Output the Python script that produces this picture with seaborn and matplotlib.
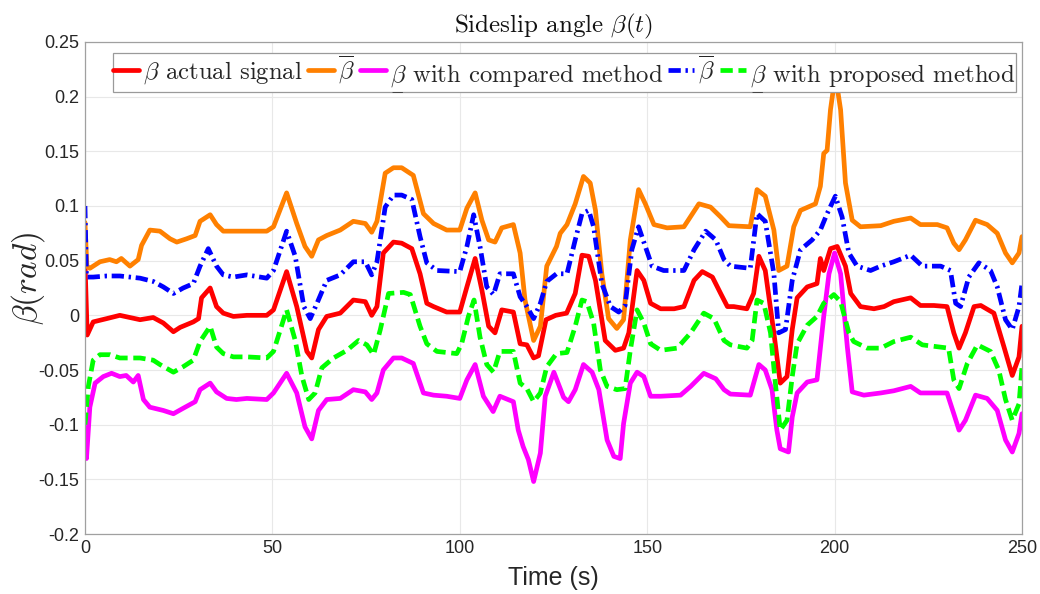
import matplotlib
matplotlib.use("Agg")
import matplotlib.pyplot as plt
from matplotlib.mathtext import MathTextParser
import seaborn as sns
import pandas as pd

# ---- sideslip angle traces (time in s, beta in rad) ----
t_actual = [0, 0.6, 2.2, 5.8, 9.3, 12, 14.7, 18.2, 20.9, 23.6, 25.4, 28.9, 30.3, 31.1, 33.4, 35.1,
            36.9, 39.6, 43.2, 48.5, 50.3, 53.8, 56.5, 59.2, 60.5, 62.3, 64.5, 68.1, 71.6, 74.8, 76.5,
            77.9, 79.6, 82.3, 84.5, 87.2, 89.4, 91.2, 93, 96.5, 100, 101.9, 104.1, 105.9, 107.7,
            109.4, 111.2, 114.3, 116.1, 117.9, 119.7, 121.0, 123.0, 125.6, 128.5, 130.8, 132.6,
            134.4, 136.2, 138.8, 141.5, 143.7, 145.1, 147.3, 149.1, 150.9, 153.6, 157.2, 159.8,
            162.5, 164.7, 167.4, 169.6, 171.4, 173.1, 176.6, 178.4, 179.8, 181.5, 183.8, 185.5,
            187.3, 188.7, 190.0, 192.7, 195.3, 196.2, 197.1, 198.9, 200.7, 202.9, 204.3, 206.9,
            210.5, 213.2, 215.8, 220.3, 222.9, 226.5, 230.0, 231.8, 233.2, 234.9, 237.2, 239.0,
            242.5, 245.2, 247.4, 249.2, 250.0]
beta_actual = [0.049, -0.018, -0.006, -0.003, 0.0, -0.002, -0.004, -0.002, -0.007, -0.015, -0.011,
               -0.006, -0.003, 0.016, 0.025, 0.008, 0.002, -0.001, 0.0, 0.0, 0.005, 0.04, 0.008,
               -0.033, -0.039, -0.013, -0.001, 0.002, 0.014, 0.0125, 0.0, 0.008, 0.057, 0.067,
               0.066, 0.061, 0.038, 0.011, 0.008, 0.003, 0.003, 0.026, 0.052, 0.023, -0.010,
               -0.016, 0.005, 0.003, -0.026, -0.027, -0.039, -0.037, -0.004, 0.0, 0.002, 0.02,
               0.055, 0.054, 0.032, -0.023, -0.032, -0.030, -0.016, 0.041, 0.032, 0.011, 0.006,
               0.006, 0.008, 0.032, 0.040, 0.035, 0.020, 0.008, 0.008, 0.006, 0.020, 0.054, 0.041,
               -0.016, -0.062, -0.056, -0.013, 0.016, 0.026, 0.029, 0.052, 0.041, 0.061, 0.063,
               0.045, 0.020, 0.008, 0.006, 0.008, 0.0125, 0.016, 0.009, 0.009, 0.008, -0.016,
               -0.030, -0.016, 0.008, 0.009, 0.002, -0.029, -0.055, -0.038, -0.010]

t_upper_cmp = [0, 0.5, 1.3, 4.0, 6.6, 8.4, 9.7, 12.0, 14.2, 15.1, 17.3, 20.0, 22.7, 24.5, 27.1,
               29.4, 30.7, 33.4, 35.1, 36.9, 43.2, 48.5, 50.3, 53.8, 56.5, 58.7, 60.5, 62.3, 64.5,
               68.1, 71.6, 74.8, 76.5, 77.9, 80.1, 82.3, 84.5, 87.6, 90.3, 93.0, 96.5, 100.0,
               101.9, 104.1, 105.9, 107.7, 109.4, 111.2, 114.3, 116.1, 117.4, 119.7, 121.5, 123.2,
               125.8, 126.8, 128.6, 130.8, 133.0, 134.8, 136.2, 137.9, 139.7, 141.9, 143.7, 145.5,
               147.7, 149.5, 151.8, 155.3, 159.8, 163.8, 166.9, 169.6, 171.8, 177.5, 179.3, 181.5,
               183.8, 185.1, 187.3, 189.1, 190.9, 194.9, 196.2, 197.1, 198.0, 198.9, 200.2, 201.6,
               202.9, 204.7, 206.9, 212.3, 215.8, 220.3, 222.9, 227.4, 230.0, 231.8, 233.2, 234.9,
               237.6, 240.7, 243.4, 245.6, 247.4, 249.2, 250.0]
beta_upper_cmp = [0.085, 0.045, 0.043, 0.049, 0.051, 0.049, 0.052, 0.045, 0.051, 0.064, 0.078,
                  0.077, 0.070, 0.067, 0.070, 0.073, 0.086, 0.092, 0.083, 0.077, 0.077, 0.077,
                  0.081, 0.112, 0.084, 0.063, 0.054, 0.069, 0.073, 0.078, 0.086, 0.084, 0.076,
                  0.086, 0.130, 0.135, 0.135, 0.128, 0.093, 0.084, 0.078, 0.078, 0.098, 0.112,
                  0.087, 0.069, 0.067, 0.080, 0.083, 0.057, 0.014, -0.023, -0.010, 0.045, 0.063,
                  0.075, 0.083, 0.102, 0.127, 0.121, 0.096, 0.038, -0.003, -0.012, -0.004, 0.069,
                  0.115, 0.102, 0.083, 0.080, 0.081, 0.102, 0.099, 0.090, 0.082, 0.081, 0.115,
                  0.109, 0.078, 0.041, 0.045, 0.081, 0.096, 0.102, 0.118, 0.148, 0.151, 0.188,
                  0.220, 0.188, 0.121, 0.087, 0.081, 0.082, 0.086, 0.089, 0.083, 0.083, 0.080,
                  0.066, 0.060, 0.069, 0.087, 0.083, 0.075, 0.057, 0.048, 0.057, 0.072]

t_lower_cmp = [0, 0.4, 1.3, 2.7, 4.9, 7.1, 9.3, 11.0, 12.9, 14.2, 15.6, 17.3, 20.9, 23.6, 26.2,
               29.4, 30.7, 33.4, 35.1, 37.8, 40.4, 43.2, 48.5, 50.3, 53.8, 56.5, 58.7, 60.5, 62.3,
               64.5, 68.1, 71.6, 74.8, 76.5, 77.9, 79.6, 82.3, 84.5, 87.6, 90.3, 93.0, 96.5, 100.0,
               101.9, 104.1, 106.3, 108.9, 110.7, 114.3, 115.6, 116.9, 118.3, 119.7, 121.5, 122.8,
               125.1, 127.7, 129.0, 130.8, 133.0, 135.3, 137.1, 139.3, 141.1, 142.8, 143.7, 145.5,
               147.3, 149.1, 150.9, 153.6, 158.9, 161.6, 165.1, 168.3, 170.5, 172.2, 177.5, 179.8,
               181.5, 183.3, 184.6, 185.5, 187.7, 188.7, 190.0, 192.7, 195.3, 197.1, 198.5, 200.0,
               201.6, 203.4, 204.7, 207.8, 212.3, 215.8, 220.3, 222.9, 230.0, 231.8, 233.2, 234.9,
               237.6, 240.7, 243.4, 245.6, 247.4, 249.2, 250.0]
beta_lower_cmp = [-0.102, -0.131, -0.084, -0.062, -0.056, -0.053, -0.056, -0.055, -0.061, -0.055,
                  -0.077, -0.084, -0.087, -0.090, -0.085, -0.079, -0.068, -0.062, -0.070, -0.076,
                  -0.077, -0.076, -0.077, -0.071, -0.053, -0.071, -0.102, -0.113, -0.087, -0.077,
                  -0.076, -0.068, -0.070, -0.077, -0.071, -0.050, -0.039, -0.039, -0.044, -0.071,
                  -0.073, -0.074, -0.076, -0.059, -0.045, -0.074, -0.088, -0.074, -0.079, -0.105,
                  -0.120, -0.132, -0.152, -0.126, -0.074, -0.052, -0.075, -0.079, -0.068, -0.045,
                  -0.052, -0.068, -0.114, -0.129, -0.131, -0.099, -0.062, -0.052, -0.056, -0.074,
                  -0.074, -0.073, -0.065, -0.053, -0.058, -0.068, -0.072, -0.073, -0.045, -0.050,
                  -0.068, -0.105, -0.122, -0.125, -0.093, -0.071, -0.061, -0.059, -0.001, 0.038,
                  0.057, 0.038, -0.029, -0.070, -0.073, -0.071, -0.069, -0.065, -0.071, -0.071,
                  -0.090, -0.105, -0.096, -0.073, -0.076, -0.087, -0.114, -0.125, -0.108, -0.090]

t_upper_prop = [0, 0.4, 2.2, 5.8, 9.3, 12.0, 14.7, 18.2, 20.9, 23.6, 26.2, 28.9, 30.7, 32.9, 35.1,
                36.9, 39.6, 43.2, 48.5, 50.3, 53.8, 56.1, 58.4, 60.1, 61.9, 64.5, 68.1, 71.6, 74.8,
                76.5, 77.9, 80.1, 82.3, 84.5, 87.2, 89.4, 91.2, 93.9, 100.0, 101.9, 103.7, 105.4,
                107.2, 109.0, 110.7, 114.3, 116.1, 117.9, 119.7, 121.5, 123.2, 125.8, 128.6, 130.8,
                132.6, 134.4, 135.7, 137.9, 140.2, 142.4, 144.1, 145.9, 147.7, 149.5, 151.3, 154.4,
                159.8, 162.5, 165.6, 168.3, 170.5, 172.2, 177.5, 179.3, 181.5, 183.8, 185.1, 186.9,
                188.7, 190.9, 194.0, 196.2, 198.0, 200.2, 202.0, 203.8, 206.0, 209.6, 212.3, 215.8,
                220.3, 223.4, 228.3, 230.9, 232.3, 233.6, 235.8, 238.5, 241.6, 243.4, 245.6, 247.4,
                249.2, 250.0]
beta_upper_prop = [0.100, 0.035, 0.035, 0.036, 0.036, 0.035, 0.034, 0.031, 0.026, 0.020, 0.025,
                   0.029, 0.045, 0.061, 0.045, 0.037, 0.035, 0.037, 0.034, 0.041, 0.077, 0.054,
                   0.008, -0.003, 0.011, 0.032, 0.037, 0.049, 0.049, 0.037, 0.049, 0.099, 0.110,
                   0.110, 0.106, 0.072, 0.048, 0.041, 0.040, 0.063, 0.092, 0.063, 0.026, 0.019,
                   0.038, 0.038, 0.017, 0.008, -0.003, 0.011, 0.031, 0.038, 0.038, 0.069, 0.093,
                   0.096, 0.081, 0.029, 0.008, 0.003, 0.009, 0.060, 0.081, 0.063, 0.045, 0.041,
                   0.041, 0.060, 0.077, 0.069, 0.051, 0.045, 0.043, 0.093, 0.086, 0.038, -0.016,
                   -0.013, 0.032, 0.060, 0.069, 0.078, 0.093, 0.109, 0.090, 0.057, 0.045, 0.041,
                   0.045, 0.049, 0.055, 0.045, 0.045, 0.041, 0.011, 0.008, 0.035, 0.048, 0.041,
                   0.026, -0.004, -0.013, 0.008, 0.029]

t_lower_prop = [0, 0.9, 2.2, 4.0, 6.7, 9.3, 14.7, 18.2, 20.0, 23.6, 26.2, 28.9, 30.7, 33.4, 35.1,
                36.9, 39.6, 43.2, 48.5, 50.3, 53.8, 56.1, 57.9, 59.7, 61.4, 63.2, 66.3, 69.9, 73.0,
                75.2, 77.0, 78.8, 81.0, 85.0, 86.8, 89.4, 91.2, 93.9, 99.2, 100.5, 102.3, 103.8,
                105.4, 107.2, 109.0, 110.7, 114.3, 116.1, 117.9, 119.7, 121.5, 123.2, 125.8, 128.6,
                130.8, 132.6, 133.9, 135.7, 137.5, 139.3, 141.9, 144.1, 145.5, 147.3, 149.1, 150.9,
                153.6, 158.0, 161.6, 165.1, 167.8, 170.5, 172.2, 176.6, 178.0, 179.3, 181.1, 182.9,
                184.2, 185.5, 187.3, 188.7, 190.0, 192.7, 195.3, 197.1, 199.8, 201.6, 203.8, 205.1,
                208.7, 212.3, 215.8, 220.3, 223.4, 230.4, 231.8, 233.2, 235.4, 238.1, 241.6, 243.8,
                245.6, 247.4, 249.2, 250.0]
beta_lower_prop = [-0.100, -0.065, -0.041, -0.036, -0.036, -0.039, -0.039, -0.041, -0.045,
                   -0.052, -0.047, -0.041, -0.024, -0.010, -0.029, -0.035, -0.038, -0.038, -0.039,
                   -0.033, 0.005, -0.023, -0.056, -0.077, -0.071, -0.048, -0.039, -0.032, -0.023,
                   -0.027, -0.036, -0.013, 0.020, 0.021, 0.019, -0.010, -0.026, -0.033, -0.035,
                   -0.026, -0.001, 0.014, -0.020, -0.045, -0.052, -0.033, -0.033, -0.062, -0.067,
                   -0.079, -0.071, -0.047, -0.035, -0.034, -0.010, 0.014, 0.0125, -0.007, -0.050,
                   -0.065, -0.068, -0.067, -0.032, 0.005, -0.007, -0.026, -0.032, -0.030, -0.016,
                   0.002, -0.003, -0.023, -0.027, -0.030, -0.023, 0.014, 0.011, -0.016, -0.062,
                   -0.105, -0.096, -0.056, -0.026, -0.009, -0.001, 0.011, 0.019, 0.0125, -0.016,
                   -0.024, -0.030, -0.030, -0.024, -0.020, -0.027, -0.030, -0.059, -0.067, -0.044,
                   -0.027, -0.033, -0.050, -0.077, -0.096, -0.081, -0.047]

x_ticks = [0, 50, 100, 150, 200, 250]
y_ticks = [-0.2, -0.15, -0.1, -0.05, 0, 0.05, 0.1, 0.15, 0.2, 0.25]
y_tick_labels = ["-0.2", "-0.15", "-0.1", "-0.05", "0", "0.05", "0.1", "0.15", "0.2", "0.25"]


def lower_bar(sym):
    """Underlined symbol in mathtext, with a fallback for older parsers."""
    s = r"$\underline{%s}$" % sym
    try:
        MathTextParser("path").parse(s)
        return s
    except Exception:
        return r"$\underset{-}{%s}$" % sym


sns.set_theme(style="whitegrid")
plt.rcParams["font.family"] = ["Liberation Sans", "DejaVu Sans"]
plt.rcParams["mathtext.fontset"] = "cm"
serif = ["cmr10", "DejaVu Serif"]

fig = plt.figure(figsize=(10.4, 5.94), dpi=100)
ax = fig.add_axes([0.0817, 0.101, 0.9010, 0.8283])
ax.set_facecolor("white")

lw = 3.4
series = [
    (t_actual, beta_actual, "#ff0000", "-", r"$\beta$ actual signal"),
    (t_upper_cmp, beta_upper_cmp, "#ff8000", "-", r"$\overline{\beta}$"),
    (t_lower_cmp, beta_lower_cmp, "#ff00ff", "-", lower_bar(r"\beta") + " with compared method"),
    (t_upper_prop, beta_upper_prop, "#0000ff", (0, (2.6, 1.0, 0.5, 1.0)), r"$\overline{\beta}$"),
    (t_lower_prop, beta_lower_prop, "#00ff00", (0, (2.6, 1.2)), lower_bar(r"\beta") + " with proposed method"),
]

for i, (t, b, col, ls, lab) in enumerate(series):
    df = pd.DataFrame({"t": t, "beta": b})
    sns.lineplot(data=df, x="t", y="beta", ax=ax, color=col, linewidth=lw,
                 label=lab, zorder=2 + 0.1 * i, estimator=None, sort=False)
    ax.lines[-1].set_linestyle(ls)

ax.set_xlim(0, 250)
ax.set_ylim(-0.2, 0.25)
ax.set_xticks(x_ticks)
ax.set_xticklabels([str(v) for v in x_ticks])
ax.set_yticks(y_ticks)
ax.set_yticklabels(y_tick_labels)
ax.tick_params(axis="both", labelsize=13, labelcolor="#262626", direction="in",
               length=4, color="#999999", pad=4)
ax.grid(True, color="#e8e8e8", linewidth=0.8)
for sp in ax.spines.values():
    sp.set_color("#a0a0a0")
    sp.set_linewidth(0.9)

ax.set_xlabel("Time (s)", fontsize=18, color="#262626", labelpad=7)
ax.set_ylabel(r"$\beta(rad)$", fontsize=24, color="#262626")
ax.yaxis.set_label_coords(-0.04, 0.52)
ax.set_title(r"Sideslip angle $\beta(t)$", fontsize=18, family=serif,
             color="#111111", pad=7)

handles = ax.lines[-5:]
labels = [s[4] for s in series]
leg = ax.legend(handles, labels, loc="upper center", bbox_to_anchor=(0.5115, 0.978), ncol=5,
                prop={"family": serif, "size": 17.8},
                handlelength=1.05, handletextpad=0.15, columnspacing=0.22, borderpad=0.02,
                borderaxespad=0.0, fancybox=False, framealpha=1, edgecolor="#9a9a9a")
leg.get_frame().set_linewidth(0.9)

fig.savefig("out.png", dpi=100, facecolor="white")
